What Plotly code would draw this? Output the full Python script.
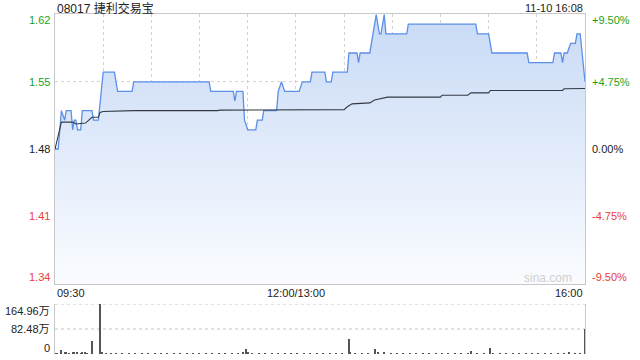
import plotly.graph_objects as go

# ---------------- data ----------------
title_text = "08017 捷利交易宝"
stamp_text = "11-10 16:08"
prev_close = 1.48

# price path: minute index since 09:30 (lunch break removed) -> price
price_min = [0, 2, 4, 6, 7, 10, 11, 12, 13, 14, 16, 17, 23, 24, 27, 30, 37, 39, 48, 49,
             96, 97, 111, 112, 113, 117, 118, 120, 125, 126, 129, 130, 138, 139, 141, 143,
             152, 154, 159, 160, 168, 169, 172, 173, 182, 183, 188, 189, 190, 196, 200,
             202, 203, 205, 206, 219, 220, 262, 263, 270, 272, 294, 295, 310, 311, 315,
             316, 317, 319, 321, 324, 325, 327, 330]
price_val = [1.48, 1.48, 1.52, 1.51, 1.52, 1.52, 1.50, 1.51, 1.51, 1.50, 1.50, 1.52, 1.52,
             1.51, 1.51, 1.56, 1.56, 1.54, 1.54, 1.55, 1.55, 1.54, 1.54, 1.53, 1.54, 1.54,
             1.51, 1.50, 1.50, 1.51, 1.51, 1.52, 1.52, 1.54, 1.55, 1.54, 1.54, 1.55, 1.55,
             1.56, 1.56, 1.55, 1.55, 1.56, 1.56, 1.58, 1.58, 1.57, 1.58, 1.58, 1.62, 1.60,
             1.60, 1.62, 1.60, 1.60, 1.61, 1.61, 1.60, 1.60, 1.58, 1.58, 1.57, 1.57, 1.58,
             1.58, 1.57, 1.58, 1.58, 1.59, 1.59, 1.60, 1.60, 1.55]

# average price line
avg_min = [0, 4, 11, 13, 19, 21, 23, 27, 28, 30, 49, 101, 103, 180, 182, 185, 196, 199,
           205, 207, 240, 241, 257, 259, 270, 271, 316, 317, 330]
avg_val = [1.480, 1.508, 1.508, 1.506, 1.507, 1.510, 1.513, 1.513, 1.518, 1.519, 1.520,
           1.520, 1.5205, 1.521, 1.524, 1.527, 1.528, 1.531, 1.533, 1.534, 1.534, 1.536,
           1.536, 1.5385, 1.5385, 1.541, 1.541, 1.5427, 1.543]

# volume in 万 shares
vol_min = [0, 1, 4, 6, 7, 9, 11, 12, 14, 16, 17, 19, 20, 23, 28, 29, 32, 35, 38, 42, 46,
           50, 54, 58, 62, 66, 70, 74, 78, 82, 86, 90, 94, 98, 102, 106, 110, 114, 117,
           119, 120, 123, 127, 131, 135, 139, 143, 147, 151, 155, 159, 163, 167, 171, 175,
           179, 183, 184, 187, 191, 195, 199, 201, 205, 209, 213, 217, 221, 225, 229, 233,
           237, 241, 245, 249, 253, 257, 259, 263, 267, 271, 273, 277, 281, 285, 289, 293,
           297, 301, 305, 309, 313, 317, 320, 324, 327, 330]
vol_val = [3, 2, 13, 5, 4, 2, 6, 5, 6, 3, 7, 4, 3, 44, 164, 5, 3, 2, 3, 2, 3, 2, 3, 2, 2,
           3, 2, 2, 3, 2, 2, 3, 2, 2, 3, 2, 2, 3, 4, 17, 8, 3, 2, 3, 2, 3, 2, 2, 3, 2, 3, 2,
           2, 3, 2, 3, 50, 6, 3, 2, 3, 17, 4, 5, 3, 2, 3, 2, 3, 2, 2, 3, 2, 3, 2, 2, 3, 11,
           3, 2, 20, 3, 2, 3, 2, 2, 3, 2, 3, 2, 2, 3, 2, 5, 3, 2, 81]

grid_ticks = [0, 30, 60, 90, 120, 150, 180, 210, 240, 270, 300, 330]
price_ticks = [1.62, 1.55, 1.48, 1.41, 1.34]
pct_ticks = ["+9.50%", "+4.75%", "0.00%", "-4.75%", "-9.50%"]
vol_ticks = [164.96, 82.48, 0]
vol_labels = ["164.96万", "82.48万", "0"]
time_labels = [(0, "09:30", "left"), (150, "12:00/13:00", "center"), (330, "16:00", "right")]

# ---------------- styling ----------------
FONT = "Arial, Liberation Sans, Noto Sans CJK SC, sans-serif"
GREEN = "#1aa31a"
RED = "#f03c3c"
BLACK = "#222222"
y_lo, y_hi = 1.3394, 1.6206

fig = go.Figure()

fig.add_trace(go.Scatter(
    x=price_min, y=price_val, mode="lines",
    line=dict(color="#5b8fe8", width=1.3),
    fill="tozeroy",
    fillgradient=dict(type="vertical", start=y_lo, stop=y_hi,
                      colorscale=[[0, "rgba(250,252,255,1)"], [1, "rgba(200,218,246,1)"]]),
    hoverinfo="skip", xaxis="x", yaxis="y"))

fig.add_trace(go.Scatter(
    x=avg_min, y=avg_val, mode="lines",
    line=dict(color="#333a44", width=1.1),
    hoverinfo="skip", xaxis="x", yaxis="y"))

fig.add_trace(go.Bar(
    x=vol_min, y=vol_val, width=0.7,
    marker=dict(color="#555555", line=dict(width=0)),
    hoverinfo="skip", xaxis="x2", yaxis="y2"))

main_bottom = 70 / 340
vol_top = 50 / 340

fig.update_layout(
    width=640, height=360,
    margin=dict(l=55, r=55, t=14, b=6),
    paper_bgcolor="white", plot_bgcolor="rgba(0,0,0,0)",
    showlegend=False, bargap=0,
    font=dict(family=FONT, size=11, color=BLACK),
    xaxis=dict(domain=[0, 1], range=[0, 330], anchor="y", tickvals=grid_ticks,
               showticklabels=False, ticks="", showgrid=True, gridcolor="#d2d2d2",
               griddash="dot", gridwidth=1, zeroline=False, showline=True, mirror=True,
               linecolor="#c8c8c8", linewidth=1),
    yaxis=dict(domain=[main_bottom, 1], range=[y_lo, y_hi], anchor="x",
               tickvals=[1.41, 1.55], showticklabels=False, ticks="", showgrid=True,
               gridcolor="#d2d2d2", griddash="dot", gridwidth=1, zeroline=False,
               showline=True, mirror=True, linecolor="#c8c8c8", linewidth=1),
    xaxis2=dict(domain=[0, 1], range=[0, 330], anchor="y2", showticklabels=False,
                ticks="", showgrid=False, zeroline=False, showline=False),
    yaxis2=dict(domain=[0, vol_top], range=[0, 164.96], anchor="x2", showticklabels=False,
                ticks="", showgrid=False, zeroline=False, showline=True, mirror=True,
                linecolor="#c8c8c8", linewidth=1),
)

# reference lines
fig.add_shape(type="line", xref="x", yref="y", x0=0, x1=330, y0=prev_close, y1=prev_close,
              line=dict(color="#b4b4b4", width=1, dash="3px,3px"), layer="below")
for v in vol_ticks[:2]:
    fig.add_shape(type="line", xref="x2", yref="y2", x0=0, x1=330, y0=v, y1=v,
                  line=dict(color="#c4c4c4", width=1, dash="dot"), layer="below")

ann = []
ann.append(dict(text=title_text, xref="paper", yref="paper", x=0, y=1, yshift=6,
                xanchor="left", yanchor="middle", showarrow=False,
                font=dict(size=12, color=BLACK)))
ann.append(dict(text=stamp_text, xref="paper", yref="paper", x=1, y=1, yshift=6,
                xanchor="right", yanchor="middle", showarrow=False,
                font=dict(size=11, color=BLACK)))

price_colors = [GREEN, GREEN, BLACK, RED, RED]
shifts = [-5, 0, 0, 0, 6]
for p, pc, col, sh in zip(price_ticks, pct_ticks, price_colors, shifts):
    ann.append(dict(text=f"{p:.2f}", xref="paper", yref="y", x=0, y=p, xshift=-3, yshift=sh,
                    xanchor="right", yanchor="middle", showarrow=False,
                    font=dict(size=11, color=col)))
    ann.append(dict(text=pc, xref="paper", yref="y", x=1, y=p, xshift=5, yshift=sh,
                    xanchor="left", yanchor="middle", showarrow=False,
                    font=dict(size=11, color=col)))

vshifts = [-7, 0, 6]
for v, lab, sh in zip(vol_ticks, vol_labels, vshifts):
    ann.append(dict(text=lab, xref="paper", yref="y2", x=0, y=v, xshift=-3, yshift=sh,
                    xanchor="right", yanchor="middle", showarrow=False,
                    font=dict(size=11, color=BLACK)))

for m, lab, anchor in time_labels:
    ann.append(dict(text=lab, xref="x", yref="paper", x=m, y=main_bottom, yshift=-9,
                    xanchor=anchor, yanchor="middle", showarrow=False,
                    font=dict(size=11, color=BLACK)))

ann.append(dict(text="sina.com", xref="paper", yref="y", x=1, y=y_lo, xshift=-11, yshift=6,
                xanchor="right", yanchor="middle", showarrow=False,
                font=dict(size=12, color="#cfcfcf")))

fig.update_layout(annotations=ann)

fig.write_html("out.html")
